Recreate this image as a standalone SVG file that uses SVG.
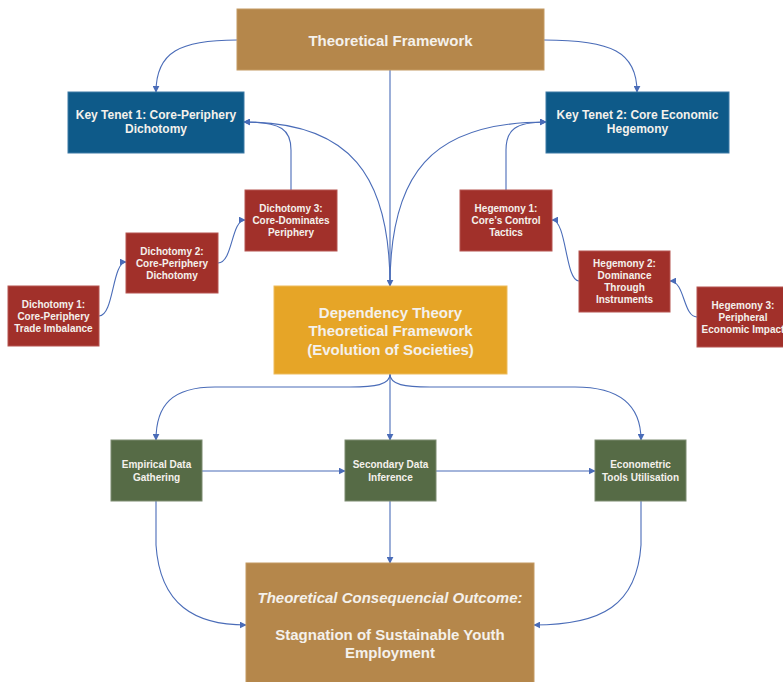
<svg xmlns="http://www.w3.org/2000/svg" width="783" height="682" viewBox="0 0 783 682">
<defs>
<marker id="ah" viewBox="0 0 10 10" refX="9" refY="5" markerWidth="7" markerHeight="7" markerUnits="userSpaceOnUse" orient="auto">
<path d="M0,0 L10,5 L0,10 z" fill="#4a6cb8"/>
</marker>
<style>
text{font-family:"Liberation Sans",Arial,sans-serif;font-weight:bold;fill:#f4f1ec;text-anchor:middle;dominant-baseline:central}
.tan{fill:#b5874b;stroke:#c49a63;stroke-width:1}
.blue{fill:#0e5a89;stroke:#3d7aa6;stroke-width:1}
.red{fill:#a1302a;stroke:#b65550;stroke-width:1}
.green{fill:#566b46;stroke:#7d8c70;stroke-width:1}
.orange{fill:#e6a527;stroke:#edbb5c;stroke-width:1}
.s10{font-size:10px}
.s12{font-size:12px}
.s15{font-size:15px}
.conn path{fill:none;stroke:#4a6cb8;stroke-width:1.1;marker-end:url(#ah)}
</style>
</defs>
<rect width="783" height="682" fill="#ffffff"/>

<g class="conn" id="connectors">
<path d="M237,40 C180,40 156,52 156,92"/>
<path d="M544,40 C612,40 637,52 637,92"/>
<path d="M390,70 L390,286"/>
<path d="M390,286 C390,175 350,122 244,122"/>
<path d="M390,286 C390,175 430,122 546,122"/>
<path d="M291,190 L291,150 C291,130 282,122 244,122"/>
<path d="M506,190 L506,150 C506,130 515,122 546,122"/>
<path d="M99,316 C114,316 112,262 126,262"/>
<path d="M218,263 C233,263 231,220 245,220"/>
<path d="M579,281 C565,281 567,220 552,220"/>
<path d="M697,317 C683,317 685,281 670,281"/>
<path d="M390,374 C390,385 375,387 350,387 L215,387 C172,387 156,405 156,440"/>
<path d="M390,374 L390,440"/>
<path d="M390,374 C390,385 405,387 430,387 L575,387 C620,387 641,405 641,440"/>
<path d="M202,471 L345,471"/>
<path d="M436,471 L595,471"/>
<path d="M156,501 L156,545 C160,605 195,625 246,625"/>
<path d="M641,501 L641,545 C637,605 602,625 534,625"/>
<path d="M390,501 L390,563"/>
</g>

<g id="theoretical-framework">
<rect class="tan" x="237" y="9" width="307" height="61"/>
<text class="s15" x="390.5" y="40">Theoretical Framework</text>
</g>
<g id="key-tenet-1">
<rect class="blue" x="68" y="92" width="176" height="61"/>
<text class="s12" x="156" y="115">Key Tenet 1: Core-Periphery</text>
<text class="s12" x="156" y="129">Dichotomy</text>
</g>
<g id="key-tenet-2">
<rect class="blue" x="546" y="92" width="183" height="61"/>
<text class="s12" x="637.5" y="115">Key Tenet 2: Core Economic</text>
<text class="s12" x="637.5" y="129">Hegemony</text>
</g>
<g id="dichotomy-3">
<rect class="red" x="245" y="190" width="92" height="61"/>
<text class="s10" x="291" y="208">Dichotomy 3:</text>
<text class="s10" x="291" y="220">Core-Dominates</text>
<text class="s10" x="291" y="232">Periphery</text>
</g>
<g id="dichotomy-2">
<rect class="red" x="126" y="233" width="92" height="60"/>
<text class="s10" x="172" y="251">Dichotomy 2:</text>
<text class="s10" x="172" y="263">Core-Periphery</text>
<text class="s10" x="172" y="275">Dichotomy</text>
</g>
<g id="dichotomy-1">
<rect class="red" x="8" y="286" width="91" height="60"/>
<text class="s10" x="53.5" y="304">Dichotomy 1:</text>
<text class="s10" x="53.5" y="316">Core-Periphery</text>
<text class="s10" x="53.5" y="328">Trade Imbalance</text>
</g>
<g id="hegemony-1">
<rect class="red" x="460" y="190" width="92" height="61"/>
<text class="s10" x="506" y="208">Hegemony 1:</text>
<text class="s10" x="506" y="220">Core’s Control</text>
<text class="s10" x="506" y="232">Tactics</text>
</g>
<g id="hegemony-2">
<rect class="red" x="579" y="251" width="91" height="61"/>
<text class="s10" x="624.5" y="263">Hegemony 2:</text>
<text class="s10" x="624.5" y="275">Dominance</text>
<text class="s10" x="624.5" y="287">Through</text>
<text class="s10" x="624.5" y="299">Instruments</text>
</g>
<g id="hegemony-3">
<rect class="red" x="697" y="287" width="92" height="60"/>
<text class="s10" x="743" y="305">Hegemony 3:</text>
<text class="s10" x="743" y="317">Peripheral</text>
<text class="s10" x="743" y="329">Economic Impact</text>
</g>
<g id="dependency-theory">
<rect class="orange" x="274" y="286" width="233" height="88"/>
<text class="s15" x="390.5" y="312">Dependency Theory</text>
<text class="s15" x="390.5" y="330">Theoretical Framework</text>
<text class="s15" x="390.5" y="349">(Evolution of Societies)</text>
</g>
<g id="empirical-data">
<rect class="green" x="111" y="440" width="91" height="61"/>
<text class="s10" x="156.5" y="464">Empirical Data</text>
<text class="s10" x="156.5" y="477">Gathering</text>
</g>
<g id="secondary-data">
<rect class="green" x="345" y="440" width="91" height="61"/>
<text class="s10" x="390.5" y="464">Secondary Data</text>
<text class="s10" x="390.5" y="477">Inference</text>
</g>
<g id="econometric-tools">
<rect class="green" x="595" y="440" width="91" height="61"/>
<text class="s10" x="640.5" y="464">Econometric</text>
<text class="s10" x="640.5" y="477">Tools Utilisation</text>
</g>
<g id="outcome">
<rect class="tan" x="246" y="563" width="288" height="125"/>
<text class="s15" x="390" y="597" font-style="italic">Theoretical Consequencial Outcome:</text>
<text class="s15" x="390" y="634">Stagnation of Sustainable Youth</text>
<text class="s15" x="390" y="652">Employment</text>
</g>
</svg>
